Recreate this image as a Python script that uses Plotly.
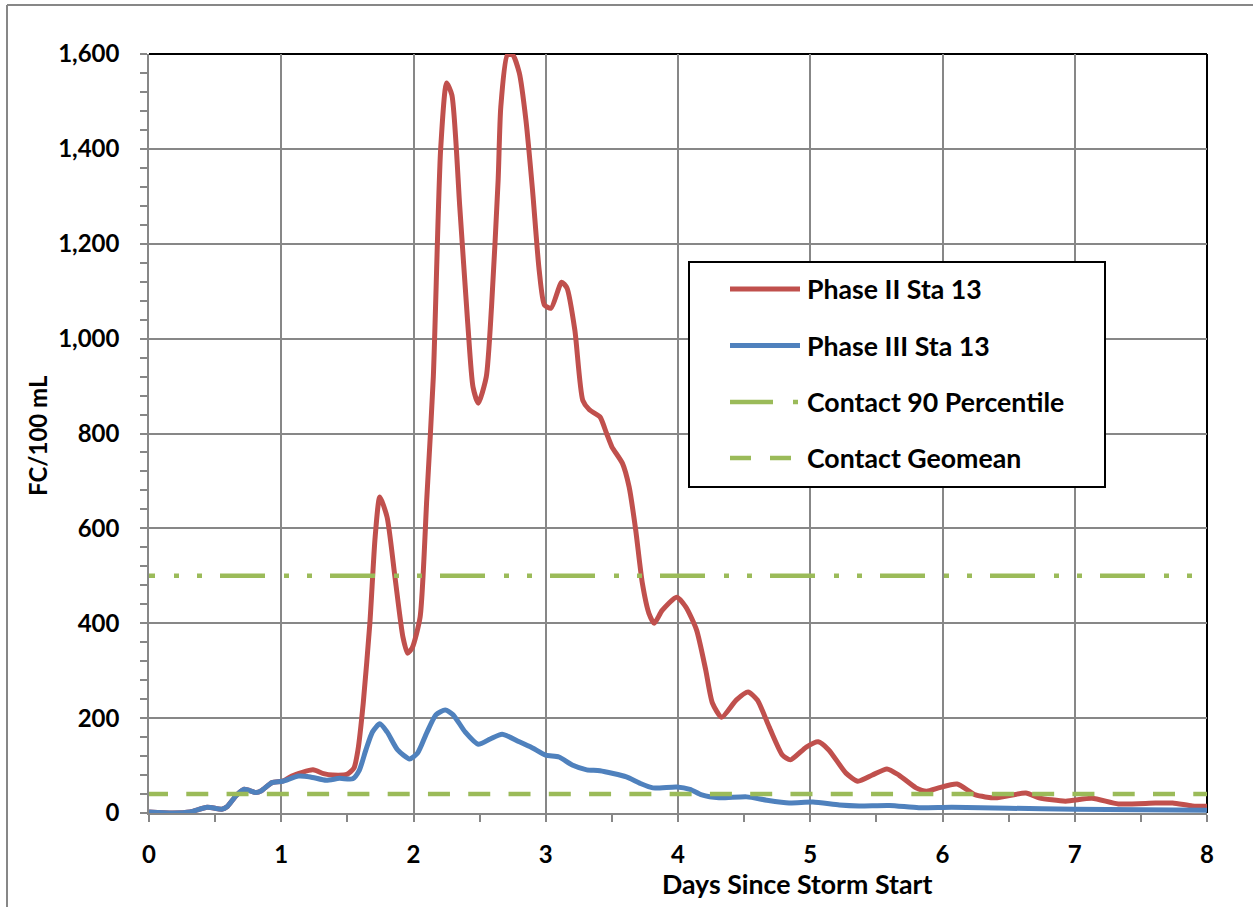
import plotly.graph_objects as go

# Fecal coliform counts at Station 13 after a storm (days since start, FC/100 mL)
phase2_days = [0.00, 0.18, 0.31, 0.44, 0.55, 0.59, 0.66, 0.72, 0.81, 0.85, 0.93, 1.01,
               1.08, 1.24, 1.32, 1.39, 1.50, 1.55, 1.58, 1.62, 1.67, 1.71, 1.745, 1.80,
               1.86, 1.92, 1.955, 1.99, 2.05, 2.10, 2.15, 2.205, 2.25, 2.29, 2.35, 2.41,
               2.45, 2.49, 2.55, 2.59, 2.64, 2.66, 2.71, 2.75, 2.80, 2.85, 2.90, 2.95,
               2.99, 3.04, 3.12, 3.16, 3.22, 3.28, 3.33, 3.41, 3.46, 3.50, 3.58, 3.63,
               3.68, 3.73, 3.78, 3.82, 3.88, 3.99, 4.06, 4.14, 4.21, 4.26, 4.33, 4.44,
               4.53, 4.60, 4.69, 4.79, 4.85, 4.97, 5.06, 5.14, 5.27, 5.36, 5.47, 5.58,
               5.67, 5.80, 5.88, 5.97, 6.11, 6.25, 6.40, 6.63, 6.73, 6.93, 7.13, 7.33,
               7.61, 7.74, 7.89, 8.00]
phase2_fc = [2, 0, 2, 12, 8, 13, 37, 50, 43, 47, 64, 67,
             78, 91, 83, 80, 82, 95, 133, 232, 400, 582, 666, 624,
             497, 371, 337, 348, 413, 660, 920, 1398, 1539, 1514, 1277, 1033,
             898, 864, 919, 1067, 1334, 1488, 1598, 1598, 1560, 1461, 1313, 1145,
             1071, 1064, 1119, 1107, 1018, 870, 850, 835, 800, 772, 737, 688,
             597, 485, 421, 400, 427, 455, 434, 386, 301, 232, 202, 238,
             255, 238, 181, 122, 112, 139, 150, 133, 84, 67, 80, 93,
             80, 53, 46, 53, 61, 38, 32, 42, 32, 25, 31, 19,
             21, 21, 15, 14]

phase3_days = [0.00, 0.18, 0.31, 0.44, 0.55, 0.59, 0.66, 0.72, 0.81, 0.85, 0.93, 1.01,
               1.13, 1.22, 1.34, 1.44, 1.54, 1.59, 1.64, 1.69, 1.745, 1.80, 1.88, 1.97,
               2.03, 2.10, 2.17, 2.24, 2.30, 2.39, 2.49, 2.58, 2.67, 2.80, 2.90, 3.00,
               3.10, 3.20, 3.31, 3.41, 3.61, 3.71, 3.81, 3.99, 4.09, 4.18, 4.31, 4.52,
               4.67, 4.84, 5.02, 5.22, 5.37, 5.60, 5.82, 6.07, 6.50, 7.00, 7.50, 8.00]
phase3_fc = [2, 0, 2, 12, 8, 13, 37, 50, 43, 47, 64, 67,
             78, 76, 69, 73, 72, 90, 133, 171, 188, 171, 133, 114,
             126, 169, 207, 217, 207, 171, 145, 156, 166, 150, 137, 122,
             118, 101, 91, 89, 76, 63, 53, 55, 50, 38, 32, 34,
             27, 21, 23, 17, 15, 16, 11, 12, 10, 8, 7, 6]

# Contact recreation criteria (FC/100 mL)
contact_90_percentile = 500
contact_geomean = 40

series_names = ["Phase II Sta 13", "Phase III Sta 13",
                "Contact 90 Percentile", "Contact Geomean"]

x_tick_values = [0, 1, 2, 3, 4, 5, 6, 7, 8]
x_tick_labels = ["0", "1", "2", "3", "4", "5", "6", "7", "8"]
y_tick_values = [0, 200, 400, 600, 800, 1000, 1200, 1400, 1600]
y_tick_labels = ["0", "200", "400", "600", "800", "1,000", "1,200", "1,400", "1,600"]

x_title = "Days Since Storm Start"
y_title = "FC/100 mL"

# ---- styling ----
W, H = 1253, 907
ML, MR, MT, MB = 149, 46, 54, 94
RED, BLUE, GREEN = "#C0504D", "#4F81BD", "#9BBB59"
GRID = "#878787"
TICK_FONT = dict(family="Lato", size=24, color="black", weight="bold")
TEXT_FONT = dict(family="Lato", size=26.7, color="black", weight="bold")


def px_x(px):
    return (px - ML) / (W - ML - MR)


def px_y(py):
    return (H - MB - py) / (H - MT - MB)


# Dash patterns: long dash + two dots for the 90th percentile, plain dashes for geomean
dash_90 = ",".join(["6px"] + ["19px,5px,18px,5px,18px,45px"] * 11 + ["18px"])
dash_geo = ",".join(["19px"] + ["18.28px,22px"] * 30 + ["18.28px"])

x_span = [x_tick_values[0], x_tick_values[-1]]

fig = go.Figure()
fig.add_trace(go.Scatter(x=phase2_days, y=phase2_fc, name=series_names[0], mode="lines",
                         line=dict(color=RED, width=5, shape="spline", smoothing=0.6)))
fig.add_trace(go.Scatter(x=phase3_days, y=phase3_fc, name=series_names[1], mode="lines",
                         line=dict(color=BLUE, width=5, shape="spline", smoothing=0.6)))
fig.add_trace(go.Scatter(x=x_span, y=[contact_90_percentile] * 2, name=series_names[2],
                         mode="lines", line=dict(color=GREEN, width=4.5, dash=dash_90)))
fig.add_trace(go.Scatter(x=x_span, y=[contact_geomean] * 2, name=series_names[3],
                         mode="lines", line=dict(color=GREEN, width=4.5, dash=dash_geo)))

shapes = []
annotations = []

# plot-area frame (top and right edges)
shapes.append(dict(type="line", xref="paper", yref="paper", x0=0, x1=1, y0=1, y1=1,
                   line=dict(color="black", width=2), layer="between"))
shapes.append(dict(type="line", xref="paper", yref="paper", x0=1, x1=1, y0=0, y1=1,
                   line=dict(color="black", width=2), layer="between"))
# chart-area border
shapes.append(dict(type="line", xref="paper", yref="paper", x0=px_x(7), x1=px_x(W + 5),
                   y0=px_y(5), y1=px_y(5), line=dict(color=GRID, width=2)))
shapes.append(dict(type="line", xref="paper", yref="paper", x0=px_x(7), x1=px_x(7),
                   y0=px_y(5), y1=px_y(H + 5), line=dict(color=GRID, width=2)))

# legend box
shapes.append(dict(type="rect", xref="paper", yref="paper",
                   x0=px_x(689), x1=px_x(1105), y0=px_y(487), y1=px_y(262),
                   line=dict(color="black", width=2), fillcolor="white", layer="above"))
legend_rows = [289, 345.5, 402, 458]
legend_styles = [
    dict(color=RED, width=5, dash="solid"),
    dict(color=BLUE, width=5, dash="solid"),
    dict(color=GREEN, width=4.5, dash="43px,20px,5px,100px"),
    dict(color=GREEN, width=4.5, dash="21px,19px,21px,100px"),
]
for name, row, style in zip(series_names, legend_rows, legend_styles):
    shapes.append(dict(type="line", xref="paper", yref="paper",
                       x0=px_x(730), x1=px_x(800), y0=px_y(row), y1=px_y(row),
                       line=style, layer="above"))
    annotations.append(dict(text=name, xref="paper", yref="paper", x=px_x(805),
                            y=px_y(row), xanchor="left", yanchor="middle",
                            showarrow=False, font=TEXT_FONT))

# axis titles
annotations.append(dict(text=x_title, xref="paper", yref="paper", x=px_x(797),
                        y=px_y(884), xanchor="center", yanchor="middle",
                        showarrow=False, font=TEXT_FONT))
annotations.append(dict(text=y_title, xref="paper", yref="paper", x=px_x(37),
                        y=px_y(436), xanchor="center", yanchor="middle", textangle=-90,
                        showarrow=False, font=TICK_FONT))

axis_common = dict(showline=True, linecolor=GRID, linewidth=1.5, showgrid=True,
                   gridcolor=GRID, gridwidth=1.5, zeroline=False, ticks="outside",
                   ticklen=7, tickwidth=1.5, tickcolor=GRID, tickfont=TICK_FONT)

fig.update_layout(
    width=W, height=H,
    margin=dict(l=ML, r=MR, t=MT, b=MB),
    paper_bgcolor="white", plot_bgcolor="white",
    showlegend=False,
    shapes=shapes, annotations=annotations,
    xaxis=dict(range=x_span, tickvals=x_tick_values, ticktext=x_tick_labels,
               minor=dict(dtick=0.5, ticks="outside", ticklen=7, tickwidth=1.5,
                          tickcolor=GRID, showgrid=False),
               ticklabelstandoff=12, **axis_common),
    yaxis=dict(range=[y_tick_values[0], y_tick_values[-1]], tickvals=y_tick_values,
               ticktext=y_tick_labels,
               minor=dict(dtick=40, ticks="outside", ticklen=7, tickwidth=1.5,
                          tickcolor=GRID, showgrid=False),
               ticklabelstandoff=16, **axis_common),
)

fig.write_html("out.html")
